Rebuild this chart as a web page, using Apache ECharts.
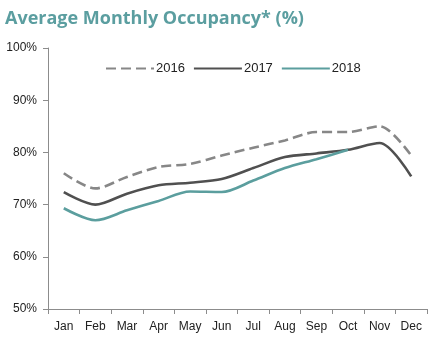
<!DOCTYPE html>
<html><head><meta charset="utf-8">
<script src="https://cdn.jsdelivr.net/npm/echarts@6/dist/echarts.min.js"></script>
<style>html,body{margin:0;padding:0;background:#fff}#c{width:437px;height:344px}</style>
</head><body><div id="c"></div>
<script>
const months = ['Jan','Feb','Mar','Apr','May','Jun','Jul','Aug','Sep','Oct','Nov','Dec'];
const y2016 = [76.0, 73.1, 75.3, 77.2, 77.8, 79.4, 80.9, 82.3, 83.9, 83.9, 85.0, 79.4];
const y2017 = [72.4, 70.0, 72.1, 73.7, 74.2, 74.9, 77.0, 79.1, 79.8, 80.5, 81.8, 75.4];
const y2018 = [69.3, 67.0, 68.9, 70.7, 72.5, 72.4, 74.6, 77.0, 78.7, 80.5];
const yTicks = [50, 60, 70, 80, 90, 100];

const chart = echarts.init(document.getElementById('c'), null, {renderer:'canvas'});
const font = 'Liberation Sans, Arial, sans-serif';
function mk(name, data, color, type){
  return {name, type:'line', data, smooth:0.3, symbol:'none',
    lineStyle:{color, width:2.6, type, cap:'butt'}, itemStyle:{color}};
}
chart.setOption({
  animation:false,
  title:{text:'Average Monthly Occupancy* (%)', left:0, top:5,
    textStyle:{color:'#5B9EA0', fontSize:18, fontWeight:'bold', fontFamily:'Open Sans, sans-serif'}},
  legend:{top:57, left:100, itemGap:8, itemWidth:48, itemHeight:12,
    itemStyle:{opacity:0},
    textStyle:{fontSize:13, color:'#222', fontFamily:font, padding:[0,0,0,-3]},
    data:['2016','2017','2018']},
  grid:{left:48, right:10, top:48, bottom:35},
  xAxis:{type:'category', data:months, boundaryGap:true,
    axisLine:{lineStyle:{color:'#8c8c8c', width:1}},
    axisTick:{show:true, length:5, lineStyle:{color:'#8c8c8c'}},
    axisLabel:{fontSize:12, color:'#222', fontFamily:font, margin:12}},
  yAxis:{type:'value', min:50, max:100, interval:10,
    axisLine:{show:true, lineStyle:{color:'#8c8c8c', width:1}},
    axisTick:{show:true, length:5, lineStyle:{color:'#8c8c8c'}},
    splitLine:{show:false},
    axisLabel:{fontSize:12, color:'#222', fontFamily:font, margin:11,
      formatter:v => yTicks.includes(v) ? v + '%' : ''}},
  series:[
    mk('2016', y2016, '#878787', [10,5]),
    mk('2017', y2017, '#505050', 'solid'),
    mk('2018', y2018, '#5B9E9E', 'solid')
  ]
});
</script></body></html>
